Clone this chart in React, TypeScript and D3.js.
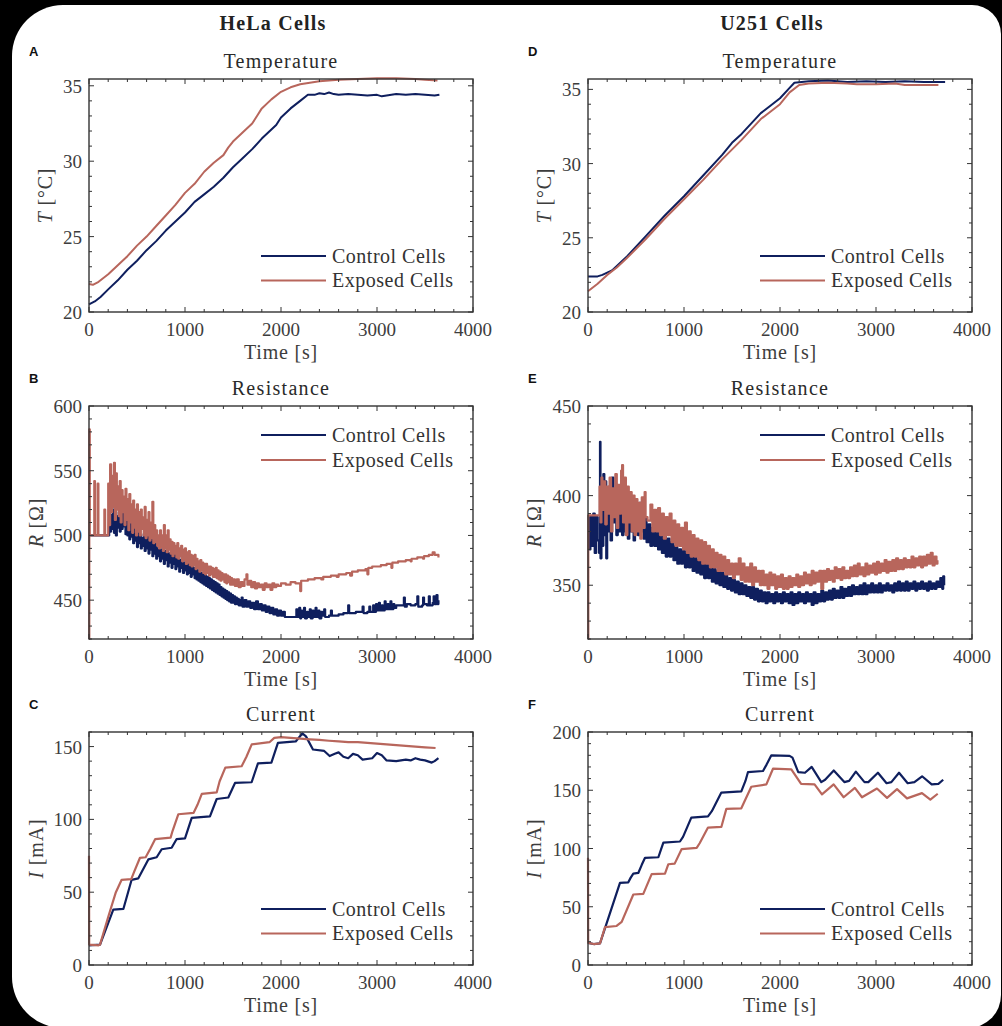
import React from 'react';
import * as d3 from 'd3';

type Pt = [number, number];

// ---- shared labels ----
const timeTicks = [0, 1000, 2000, 3000, 4000];
const seriesNames = ['Control Cells', 'Exposed Cells'];
const columnTitles = ['HeLa Cells', 'U251 Cells'];

// ---- HeLa: temperature [s, °C] ----
const helaTempControl: Pt[] = [
  [0, 20.5], [60, 20.7], [120, 21.0], [200, 21.5], [300, 22.1], [400, 22.8], [500, 23.4], [600, 24.1],
  [700, 24.7], [800, 25.4], [900, 26.0], [1000, 26.6], [1100, 27.3], [1200, 27.8], [1300, 28.3],
  [1400, 28.9], [1500, 29.6], [1600, 30.2], [1700, 30.8], [1800, 31.5], [1900, 32.1], [1950, 32.4],
  [2000, 32.9], [2100, 33.5], [2200, 34.0], [2280, 34.4], [2350, 34.4], [2400, 34.5], [2450, 34.45],
  [2500, 34.55], [2550, 34.45], [2600, 34.4], [2700, 34.45], [2800, 34.4], [2900, 34.35], [3000, 34.4],
  [3050, 34.3], [3100, 34.35], [3200, 34.45], [3300, 34.4], [3400, 34.45], [3500, 34.4], [3600, 34.35],
  [3650, 34.4],
];
const helaTempExposed: Pt[] = [
  [0, 21.85], [40, 21.8], [100, 22.0], [200, 22.5], [300, 23.1], [400, 23.7], [500, 24.4], [600, 25.0],
  [700, 25.7], [800, 26.4], [900, 27.1], [1000, 27.9], [1100, 28.5], [1200, 29.3], [1300, 29.9],
  [1400, 30.4], [1450, 30.9], [1500, 31.3], [1600, 31.9], [1700, 32.5], [1750, 33.0], [1800, 33.5],
  [1900, 34.1], [2000, 34.6], [2100, 34.9], [2200, 35.1], [2300, 35.2], [2400, 35.3], [2500, 35.35],
  [2600, 35.4], [2800, 35.45], [3000, 35.5], [3200, 35.5], [3400, 35.45], [3500, 35.4], [3630, 35.35],
];

// ---- U251: temperature ----
const u251TempControl: Pt[] = [
  [0, 22.4], [100, 22.4], [150, 22.5], [250, 22.8], [400, 23.7], [600, 25.1], [800, 26.5], [1000, 27.8],
  [1200, 29.2], [1400, 30.6], [1500, 31.4], [1600, 32.0], [1800, 33.4], [1900, 33.9], [2000, 34.4],
  [2100, 35.1], [2150, 35.45], [2300, 35.55], [2500, 35.6], [2700, 35.5], [2900, 35.55], [3100, 35.5],
  [3300, 35.55], [3500, 35.5], [3720, 35.5],
];
const u251TempExposed: Pt[] = [
  [0, 21.4], [100, 21.9], [200, 22.5], [300, 23.0], [400, 23.6], [600, 24.9], [800, 26.3], [1000, 27.6],
  [1200, 28.9], [1400, 30.3], [1600, 31.6], [1800, 33.0], [2000, 34.0], [2100, 34.8], [2200, 35.3],
  [2300, 35.4], [2500, 35.45], [2700, 35.4], [2800, 35.35], [3000, 35.35], [3200, 35.4], [3300, 35.3],
  [3500, 35.3], [3650, 35.3],
];

// ---- HeLa: resistance [s, Ω] ----
const helaResControl: Pt[] = [
  [0, 500], [200, 500], [210, 512], [220, 503], [230, 516], [240, 505], [250, 520], [260, 502], [270, 511],
  [280, 500], [290, 515], [300, 506], [310, 518], [320, 503], [330, 512], [340, 505], [350, 521], [360, 507],
  [370, 524], [380, 501], [390, 515], [400, 500], [410, 512], [420, 497], [430, 509], [440, 499], [450, 506],
  [460, 494], [470, 505], [480, 496], [490, 503], [500, 491], [510, 502], [520, 494], [530, 500], [540, 490],
  [550, 498], [560, 492], [570, 501], [580, 488], [590, 497], [600, 490], [610, 499], [620, 486], [630, 495],
  [640, 489], [650, 500], [660, 484], [670, 494], [680, 486], [690, 496], [700, 482], [710, 490], [720, 484],
  [730, 493], [740, 480], [750, 489], [760, 482], [770, 491], [780, 478], [790, 488], [800, 481], [810, 489],
  [820, 476], [830, 486], [840, 479], [850, 487], [860, 475], [870, 484], [880, 478], [890, 485], [900, 474],
  [910, 483], [920, 476], [930, 484], [940, 472], [950, 481], [960, 475], [970, 480], [980, 471], [990, 479],
  [1000, 473], [1010, 480], [1020, 470], [1030, 478], [1040, 471], [1050, 477], [1060, 468], [1070, 476],
  [1080, 470], [1090, 475], [1100, 467], [1110, 474], [1120, 466], [1130, 473], [1140, 465], [1150, 472],
  [1160, 464], [1170, 471], [1180, 463], [1190, 470], [1200, 462], [1210, 469], [1220, 461], [1230, 468],
  [1240, 460], [1250, 467], [1260, 459], [1270, 466], [1280, 458], [1290, 465], [1300, 457], [1310, 464],
  [1320, 456], [1330, 463], [1340, 455], [1350, 462], [1360, 454], [1370, 460], [1380, 453], [1390, 459],
  [1400, 452], [1410, 458], [1420, 451], [1430, 457], [1440, 450], [1450, 456], [1460, 449], [1470, 455],
  [1480, 448], [1490, 454], [1500, 448], [1510, 453], [1520, 447], [1530, 452], [1540, 447], [1550, 451],
  [1560, 446], [1570, 450], [1580, 446], [1590, 452], [1600, 445], [1620, 450], [1640, 445], [1660, 449],
  [1680, 444], [1700, 448], [1720, 443], [1740, 449], [1760, 443], [1780, 447], [1800, 442], [1820, 446],
  [1840, 441], [1860, 445], [1880, 440], [1900, 444], [1920, 439], [1940, 443], [1960, 438], [1980, 442],
  [2000, 438], [2020, 441], [2040, 437], [2150, 437], [2160, 443], [2170, 437], [2190, 444], [2200, 436],
  [2210, 442], [2220, 437], [2240, 444], [2250, 436], [2270, 441], [2280, 437], [2300, 443], [2310, 436],
  [2330, 442], [2340, 437], [2360, 444], [2370, 437], [2390, 442], [2400, 436], [2420, 441], [2430, 438],
  [2450, 443], [2460, 437], [2500, 438], [2520, 442], [2530, 438], [2600, 439], [2650, 440], [2700, 446],
  [2710, 440], [2780, 441], [2850, 445], [2860, 440], [2900, 441], [2920, 445], [2930, 441], [2960, 446],
  [2970, 441], [2990, 447], [3000, 442], [3020, 448], [3030, 442], [3050, 446], [3060, 442], [3080, 449],
  [3090, 443], [3110, 447], [3120, 443], [3140, 449], [3150, 443], [3170, 447], [3180, 444], [3200, 446],
  [3250, 446], [3280, 452], [3290, 445], [3310, 447], [3350, 446], [3400, 447], [3420, 453], [3430, 445],
  [3470, 446], [3480, 452], [3490, 447], [3520, 446], [3540, 453], [3550, 446], [3580, 448], [3590, 453],
  [3600, 447], [3620, 454], [3630, 447], [3640, 450],
];
const helaResExposed: Pt[] = [
  [0, 420], [3, 582], [8, 500], [55, 542], [62, 500], [90, 540], [98, 500], [150, 500], [160, 520],
  [168, 500], [200, 540], [210, 508], [220, 555], [230, 518], [240, 546], [250, 522], [260, 556], [270, 512],
  [280, 548], [290, 520], [300, 538], [310, 515], [320, 542], [330, 510], [340, 535], [350, 518], [360, 530],
  [370, 508], [380, 536], [390, 512], [400, 528], [410, 504], [420, 532], [430, 510], [440, 524], [450, 502],
  [460, 527], [470, 506], [480, 520], [490, 500], [500, 524], [510, 503], [520, 518], [530, 500], [540, 520],
  [550, 505], [560, 514], [570, 500], [580, 522], [590, 498], [600, 512], [610, 500], [620, 518], [630, 496],
  [640, 510], [650, 498], [660, 526], [670, 494], [680, 508], [690, 495], [700, 504], [710, 492], [720, 500],
  [730, 490], [740, 504], [750, 491], [760, 500], [770, 488], [780, 508], [790, 490], [800, 500], [810, 487],
  [820, 504], [830, 489], [840, 497], [850, 486], [860, 495], [870, 484], [880, 494], [890, 486], [900, 492],
  [910, 483], [920, 494], [930, 482], [940, 490], [950, 484], [960, 492], [970, 480], [980, 489], [990, 481],
  [1000, 490], [1010, 478], [1020, 487], [1030, 479], [1040, 488], [1050, 477], [1060, 485], [1070, 476],
  [1080, 484], [1090, 477], [1100, 485], [1110, 474], [1120, 482], [1130, 475], [1140, 480], [1150, 472],
  [1160, 481], [1170, 473], [1180, 479], [1190, 471], [1200, 478], [1210, 470], [1220, 478], [1230, 471],
  [1240, 476], [1250, 469], [1260, 476], [1270, 470], [1280, 475], [1290, 468], [1300, 474], [1310, 468],
  [1320, 475], [1330, 467], [1340, 473], [1350, 466], [1360, 472], [1370, 465], [1380, 471], [1390, 466],
  [1400, 470], [1410, 464], [1420, 470], [1430, 463], [1440, 469], [1450, 464], [1460, 468], [1470, 462],
  [1480, 467], [1490, 462], [1500, 466], [1520, 461], [1540, 466], [1560, 460], [1580, 464], [1600, 461],
  [1620, 466], [1640, 470], [1650, 462], [1670, 465], [1690, 460], [1710, 464], [1730, 459], [1750, 463],
  [1770, 460], [1790, 462], [1810, 458], [1830, 463], [1850, 460], [1870, 462], [1890, 458], [1910, 463],
  [1930, 460], [1950, 462], [1970, 461], [2000, 463], [2050, 462], [2100, 464], [2150, 463], [2200, 457],
  [2210, 465], [2280, 466], [2350, 467], [2420, 466], [2440, 468], [2520, 469], [2580, 468], [2600, 470],
  [2680, 471], [2720, 469], [2740, 472], [2800, 473], [2880, 474], [2900, 470], [2910, 475], [2950, 476],
  [3040, 477], [3100, 478], [3150, 475], [3160, 479], [3220, 480], [3300, 481], [3350, 480], [3360, 482],
  [3420, 483], [3480, 482], [3490, 484], [3540, 485], [3580, 487], [3600, 485], [3640, 483],
];

// ---- U251: resistance ----
const u251ResControl: Pt[] = [
  [0, 388], [10, 370], [25, 388], [40, 372], [55, 390], [70, 368], [85, 388], [100, 375], [115, 368],
  [125, 430], [130, 365], [140, 395], [150, 372], [160, 412], [170, 378], [180, 408], [190, 365], [200, 402],
  [210, 380], [220, 405], [235, 375], [250, 410], [265, 385], [280, 400], [295, 378], [310, 396], [325, 380],
  [340, 398], [355, 378], [370, 396], [385, 380], [400, 392], [415, 376], [430, 395], [445, 380], [460, 390],
  [475, 375], [490, 392], [505, 386], [520, 378], [535, 396], [550, 380], [565, 392], [580, 376], [595, 388],
  [610, 374], [630, 384], [650, 372], [670, 382], [690, 372], [710, 384], [730, 370], [750, 380], [770, 368],
  [790, 378], [810, 366], [830, 376], [850, 366], [870, 374], [890, 364], [910, 372], [930, 362], [950, 370],
  [970, 362], [990, 369], [1010, 360], [1030, 368], [1050, 360], [1070, 366], [1090, 358], [1110, 366],
  [1130, 357], [1150, 364], [1170, 356], [1190, 363], [1210, 354], [1230, 362], [1250, 354], [1270, 360],
  [1290, 352], [1310, 359], [1330, 351], [1350, 358], [1370, 350], [1390, 357], [1410, 349], [1430, 356],
  [1450, 348], [1470, 354], [1490, 347], [1510, 353], [1530, 346], [1550, 352], [1570, 345], [1590, 351],
  [1610, 345], [1630, 350], [1650, 344], [1670, 349], [1690, 343], [1710, 349], [1730, 342], [1750, 348],
  [1770, 341], [1790, 347], [1810, 341], [1830, 346], [1850, 340], [1870, 346], [1890, 341], [1910, 345],
  [1930, 340], [1950, 346], [1970, 341], [1990, 345], [2010, 340], [2030, 346], [2050, 341], [2070, 345],
  [2090, 340], [2110, 346], [2130, 339], [2150, 345], [2170, 340], [2190, 346], [2210, 341], [2230, 345],
  [2250, 340], [2270, 346], [2290, 341], [2310, 345], [2330, 339], [2350, 346], [2370, 340], [2390, 345],
  [2410, 341], [2430, 347], [2450, 341], [2470, 346], [2490, 342], [2510, 347], [2530, 342], [2550, 348],
  [2570, 343], [2590, 347], [2610, 343], [2630, 349], [2650, 343], [2670, 348], [2690, 344], [2710, 349],
  [2730, 344], [2750, 350], [2770, 345], [2790, 349], [2810, 345], [2830, 350], [2850, 345], [2870, 351],
  [2890, 345], [2910, 350], [2930, 346], [2950, 351], [2970, 346], [2990, 350], [3010, 346], [3030, 351],
  [3050, 346], [3070, 350], [3090, 347], [3110, 351], [3130, 347], [3150, 350], [3170, 346], [3190, 351],
  [3210, 347], [3230, 352], [3250, 347], [3270, 351], [3290, 347], [3310, 352], [3330, 347], [3350, 351],
  [3370, 348], [3390, 352], [3410, 347], [3430, 351], [3450, 348], [3470, 352], [3490, 348], [3510, 351],
  [3530, 347], [3550, 352], [3570, 348], [3590, 351], [3610, 348], [3630, 352], [3650, 349], [3670, 354],
  [3690, 348], [3700, 355], [3710, 350],
];
const u251ResExposed: Pt[] = [
  [0, 320], [3, 389], [110, 389], [120, 405], [130, 385], [140, 410], [150, 392], [165, 408], [180, 384],
  [195, 405], [210, 390], [225, 410], [240, 380], [255, 404], [270, 388], [285, 412], [300, 382], [315, 406],
  [330, 390], [345, 414], [355, 417], [365, 385], [380, 410], [395, 378], [410, 405], [425, 385], [440, 402],
  [455, 380], [470, 400], [485, 378], [500, 398], [515, 380], [530, 396], [545, 376], [560, 399], [575, 382],
  [590, 402], [600, 388], [620, 386], [650, 395], [670, 380], [690, 392], [710, 380], [730, 393], [750, 378],
  [770, 390], [790, 376], [810, 388], [830, 378], [850, 390], [870, 374], [890, 386], [910, 372], [930, 384],
  [950, 372], [970, 382], [990, 370], [1010, 385], [1030, 368], [1050, 380], [1070, 366], [1090, 378],
  [1110, 366], [1130, 376], [1150, 364], [1170, 375], [1190, 362], [1210, 374], [1230, 362], [1250, 372],
  [1270, 360], [1290, 370], [1310, 360], [1330, 368], [1350, 358], [1370, 367], [1390, 358], [1410, 366],
  [1430, 356], [1450, 364], [1470, 356], [1490, 362], [1510, 354], [1530, 362], [1550, 356], [1570, 365],
  [1590, 353], [1610, 362], [1630, 352], [1650, 360], [1670, 352], [1690, 362], [1710, 350], [1730, 360],
  [1750, 352], [1770, 358], [1790, 350], [1810, 358], [1830, 350], [1850, 356], [1870, 348], [1890, 357],
  [1910, 350], [1930, 356], [1950, 348], [1970, 355], [1990, 349], [2010, 356], [2030, 348], [2050, 354],
  [2070, 348], [2090, 355], [2110, 349], [2130, 354], [2150, 350], [2170, 356], [2190, 349], [2210, 355],
  [2230, 350], [2250, 357], [2270, 351], [2290, 356], [2310, 350], [2330, 358], [2350, 351], [2370, 357],
  [2390, 352], [2410, 358], [2430, 348], [2450, 358], [2470, 352], [2490, 359], [2510, 353], [2530, 358],
  [2550, 352], [2570, 360], [2590, 354], [2610, 359], [2630, 353], [2650, 360], [2670, 354], [2690, 358],
  [2710, 354], [2730, 360], [2750, 355], [2770, 361], [2790, 355], [2810, 362], [2830, 356], [2850, 360],
  [2870, 355], [2890, 362], [2910, 356], [2930, 361], [2950, 357], [2970, 362], [2990, 356], [3010, 363],
  [3030, 357], [3050, 362], [3070, 358], [3090, 364], [3110, 357], [3130, 363], [3150, 358], [3170, 364],
  [3190, 358], [3210, 365], [3230, 359], [3250, 364], [3270, 359], [3290, 365], [3310, 360], [3330, 364],
  [3350, 360], [3370, 366], [3390, 360], [3410, 365], [3430, 361], [3450, 366], [3470, 360], [3490, 366],
  [3510, 361], [3530, 367], [3550, 362], [3570, 368], [3590, 361], [3610, 366], [3630, 362], [3640, 364],
];

// ---- HeLa: current [s, mA] ----
const helaCurControl: Pt[] = [
  [0, 13.5], [115, 14], [253, 38], [358, 38.5], [444, 58.5], [514, 59.5], [618, 72.5], [705, 74],
  [757, 79.5], [861, 80.5], [913, 86.5], [1000, 87], [1070, 101], [1260, 102], [1330, 114], [1451, 115],
  [1521, 125], [1694, 125.5], [1760, 138.5], [1900, 139], [1968, 152.5], [2153, 153.5], [2222, 159],
  [2260, 157], [2333, 148], [2450, 147], [2507, 143.5], [2560, 145], [2600, 146], [2650, 143], [2700, 142],
  [2750, 145], [2800, 144], [2850, 141], [2950, 142], [3000, 145.5], [3050, 144], [3100, 140.5],
  [3200, 140], [3300, 141], [3350, 140.5], [3400, 142], [3450, 141], [3500, 140.5], [3570, 139],
  [3600, 140], [3640, 142],
];
const helaCurExposed: Pt[] = [
  [0, 75], [2, 14], [100, 13.5], [115, 14], [200, 33], [280, 50], [340, 58.5], [440, 59], [470, 64],
  [530, 73.5], [590, 74], [640, 80], [690, 86.5], [850, 87.5], [870, 92], [930, 103.5], [1090, 104.5],
  [1130, 110], [1175, 117.5], [1330, 118.5], [1360, 126], [1420, 135.5], [1590, 136.5], [1640, 143],
  [1695, 151.5], [1880, 153], [1930, 156], [2000, 156.5], [2100, 156], [2200, 155.5], [2300, 155],
  [2400, 154.6], [2500, 154], [2600, 153.5], [2700, 153], [2800, 153], [2900, 152.5], [3000, 152],
  [3100, 151.5], [3200, 151], [3300, 150.5], [3400, 150], [3500, 149.5], [3610, 149],
];

// ---- U251: current ----
const u251CurControl: Pt[] = [
  [0, 19], [60, 18], [125, 18.5], [333, 70.5], [420, 71], [445, 75], [472, 78.5], [524, 79], [560, 86],
  [594, 92], [733, 92.5], [760, 99], [785, 105], [958, 106], [990, 110], [1076, 126.5], [1250, 127.5],
  [1290, 132], [1389, 148], [1597, 149], [1640, 158], [1666, 165.5], [1823, 166.5], [1860, 172],
  [1910, 180], [2100, 179.5], [2130, 178], [2190, 165.5], [2260, 165], [2330, 170], [2430, 157],
  [2470, 159], [2560, 167], [2670, 157], [2720, 158], [2790, 166], [2880, 157], [2920, 157], [3020, 165],
  [3110, 156], [3160, 157], [3240, 165], [3330, 156], [3400, 157], [3480, 162], [3580, 155], [3650, 155.5],
  [3700, 159],
];
const u251CurExposed: Pt[] = [
  [0, 92], [2, 19], [60, 18], [125, 18.5], [177, 32.5], [298, 33.5], [351, 37], [472, 60.5], [576, 61],
  [663, 78], [802, 78.5], [837, 86.5], [903, 87], [976, 99.5], [1132, 100.5], [1163, 104.5], [1250, 118],
  [1389, 118.5], [1441, 134], [1597, 134.5], [1701, 153], [1858, 155], [1927, 168.5], [2118, 168],
  [2220, 155.5], [2360, 155], [2437, 146.5], [2559, 155], [2663, 144], [2780, 152], [2854, 144],
  [3010, 151.5], [3115, 143.5], [3219, 151], [3323, 143], [3479, 147.5], [3566, 142], [3643, 147],
];

// ---- axis settings ----
const tempTicks = [20, 25, 30, 35];
const helaResTicks = [450, 500, 550, 600];
const u251ResTicks = [350, 400, 450];
const helaCurTicks = [0, 50, 100, 150];
const u251CurTicks = [0, 50, 100, 150, 200];

const CONTROL = '#0f1f5e';
const EXPOSED = '#b8665c';
const SERIF = "'Liberation Serif', 'Times New Roman', serif";
const PW = 384;
const PH = 233;

interface PanelCfg {
  letter: string;
  title: string;
  left: number;
  top: number;
  yDomain: [number, number];
  yTicks: number[];
  yMinor: number;
  yVar: string;
  yUnit: string;
  yLabelX: number;
  control: Pt[];
  exposed: Pt[];
  legendTop: boolean;
  step: boolean;
  width: number;
}

function Panel({ c }: { c: PanelCfg }) {
  const x = d3.scaleLinear().domain([0, 4000]).range([c.left, c.left + PW]);
  const y = d3.scaleLinear().domain(c.yDomain).range([c.top + PH, c.top]);
  const line = d3
    .line<Pt>()
    .x((d) => x(d[0]))
    .y((d) => y(d[1]))
    .curve(c.step ? d3.curveStepAfter : d3.curveLinear);

  const xMinor = d3.range(0, 4001, 200);
  const yMinor = d3.range(Math.ceil(c.yDomain[0] / c.yMinor) * c.yMinor, c.yDomain[1] + 1e-6, c.yMinor);
  const bottom = c.top + PH;
  const right = c.left + PW;
  const legY = c.legendTop ? [c.top + 29, c.top + 54] : [bottom - 56, bottom - 31.5];
  const cx = c.left + PW / 2;
  const cy = c.top + PH / 2;

  return (
    <g>
      <text x={c.left - 60} y={c.top - 23} fontFamily="'Liberation Sans', Arial, sans-serif" fontWeight="bold" fontSize={13} fill="#111">
        {c.letter}
      </text>
      <text x={cx} y={c.top - 11} textAnchor="middle" fontFamily={SERIF} fontSize={20} letterSpacing={1.3} fill="#2a2a2a">
        {c.title}
      </text>

      <path d={line(c.control) ?? ''} fill="none" stroke={CONTROL} strokeWidth={c.width} strokeLinejoin="round" />
      <path d={line(c.exposed) ?? ''} fill="none" stroke={EXPOSED} strokeWidth={c.width} strokeLinejoin="round" />

      {/* ticks on all four sides, pointing inward */}
      <g stroke="#333" strokeWidth={1}>
        {xMinor.map((t) => {
          const len = t % 1000 === 0 ? 5 : 3;
          return (
            <g key={'x' + t}>
              <line x1={x(t)} x2={x(t)} y1={bottom} y2={bottom - len} />
              <line x1={x(t)} x2={x(t)} y1={c.top} y2={c.top + len} />
            </g>
          );
        })}
        {yMinor.map((v) => {
          const len = c.yTicks.some((t) => Math.abs(t - v) < 1e-6) ? 5 : 3;
          return (
            <g key={'y' + v}>
              <line x1={c.left} x2={c.left + len} y1={y(v)} y2={y(v)} />
              <line x1={right} x2={right - len} y1={y(v)} y2={y(v)} />
            </g>
          );
        })}
      </g>
      <rect x={c.left} y={c.top} width={PW} height={PH} fill="none" stroke="#333" strokeWidth={1.4} />

      <g fontFamily={SERIF} fontSize={19} fill="#3d3d3d">
        {timeTicks.map((t) => (
          <text key={t} x={x(t)} y={bottom + 24} textAnchor="middle">
            {t}
          </text>
        ))}
        {c.yTicks.map((v) => (
          <text key={v} x={c.left - 7} y={y(v) + 7} textAnchor="end">
            {v}
          </text>
        ))}
      </g>
      <text x={cx} y={bottom + 47} textAnchor="middle" fontFamily={SERIF} fontSize={20} letterSpacing={0.8} fill="#3d3d3d">
        Time [s]
      </text>
      <text
        transform={`translate(${c.yLabelX},${cy}) rotate(-90)`}
        textAnchor="middle"
        dy={7}
        fontFamily={SERIF}
        fontSize={20}
        letterSpacing={0.8}
        fill="#3d3d3d"
      >
        <tspan fontStyle="italic">{c.yVar}</tspan> {c.yUnit}
      </text>

      {seriesNames.map((name, i) => (
        <g key={name}>
          <line x1={c.left + 172} x2={c.left + 237} y1={legY[i]} y2={legY[i]} stroke={i === 0 ? CONTROL : EXPOSED} strokeWidth={2} />
          <text x={c.left + 243} y={legY[i] + 6.5} fontFamily={SERIF} fontSize={20} letterSpacing={0.5} fill="#333">
            {name}
          </text>
        </g>
      ))}
    </g>
  );
}

const panels: PanelCfg[] = [
  { letter: 'A', title: 'Temperature', left: 89, top: 79, yDomain: [20, 35.45], yTicks: tempTicks, yMinor: 1, yVar: 'T', yUnit: '[°C]', yLabelX: 45, control: helaTempControl, exposed: helaTempExposed, legendTop: false, step: false, width: 2 },
  { letter: 'B', title: 'Resistance', left: 89, top: 406, yDomain: [420, 600], yTicks: helaResTicks, yMinor: 10, yVar: 'R', yUnit: '[Ω]', yLabelX: 36, control: helaResControl, exposed: helaResExposed, legendTop: true, step: true, width: 2.2 },
  { letter: 'C', title: 'Current', left: 89, top: 732, yDomain: [0, 160], yTicks: helaCurTicks, yMinor: 10, yVar: 'I', yUnit: '[mA]', yLabelX: 36, control: helaCurControl, exposed: helaCurExposed, legendTop: false, step: false, width: 2.2 },
  { letter: 'D', title: 'Temperature', left: 588, top: 79, yDomain: [20, 35.7], yTicks: tempTicks, yMinor: 1, yVar: 'T', yUnit: '[°C]', yLabelX: 544, control: u251TempControl, exposed: u251TempExposed, legendTop: false, step: false, width: 2 },
  { letter: 'E', title: 'Resistance', left: 588, top: 406, yDomain: [320, 450], yTicks: u251ResTicks, yMinor: 10, yVar: 'R', yUnit: '[Ω]', yLabelX: 534, control: u251ResControl, exposed: u251ResExposed, legendTop: true, step: true, width: 2.2 },
  { letter: 'F', title: 'Current', left: 588, top: 732, yDomain: [0, 200], yTicks: u251CurTicks, yMinor: 10, yVar: 'I', yUnit: '[mA]', yLabelX: 534, control: u251CurControl, exposed: u251CurExposed, legendTop: false, step: false, width: 2.2 },
];

// white card with uneven corner radii on black
function cardPath(x0: number, y0: number, x1: number, y1: number, tl: number, tr: number, br: number, bl: number) {
  const p = d3.path();
  p.moveTo(x0 + tl, y0);
  p.lineTo(x1 - tr, y0);
  p.arcTo(x1, y0, x1, y0 + tr, tr);
  p.lineTo(x1, y1 - br);
  p.arcTo(x1, y1, x1 - br, y1, br);
  p.lineTo(x0 + bl, y1);
  p.arcTo(x0, y1, x0, y1 - bl, bl);
  p.lineTo(x0, y0 + tl);
  p.arcTo(x0, y0, x0 + tl, y0, tl);
  p.closePath();
  return p.toString();
}

export default function App() {
  return (
    <svg width={1002} height={1026} style={{ position: 'absolute', left: 0, top: 0, display: 'block' }}>
      <rect width={1002} height={1026} fill="#000" />
      <path d={cardPath(12, 5, 1001, 1028, 51, 29, 33, 51)} fill="#fff" />
      {columnTitles.map((t, i) => (
        <text key={t} x={i === 0 ? 273 : 772} y={30} textAnchor="middle" fontFamily={SERIF} fontWeight="bold" fontSize={20} letterSpacing={1.2} fill="#222">
          {t}
        </text>
      ))}
      {panels.map((p) => (
        <Panel key={p.letter} c={p} />
      ))}
    </svg>
  );
}
